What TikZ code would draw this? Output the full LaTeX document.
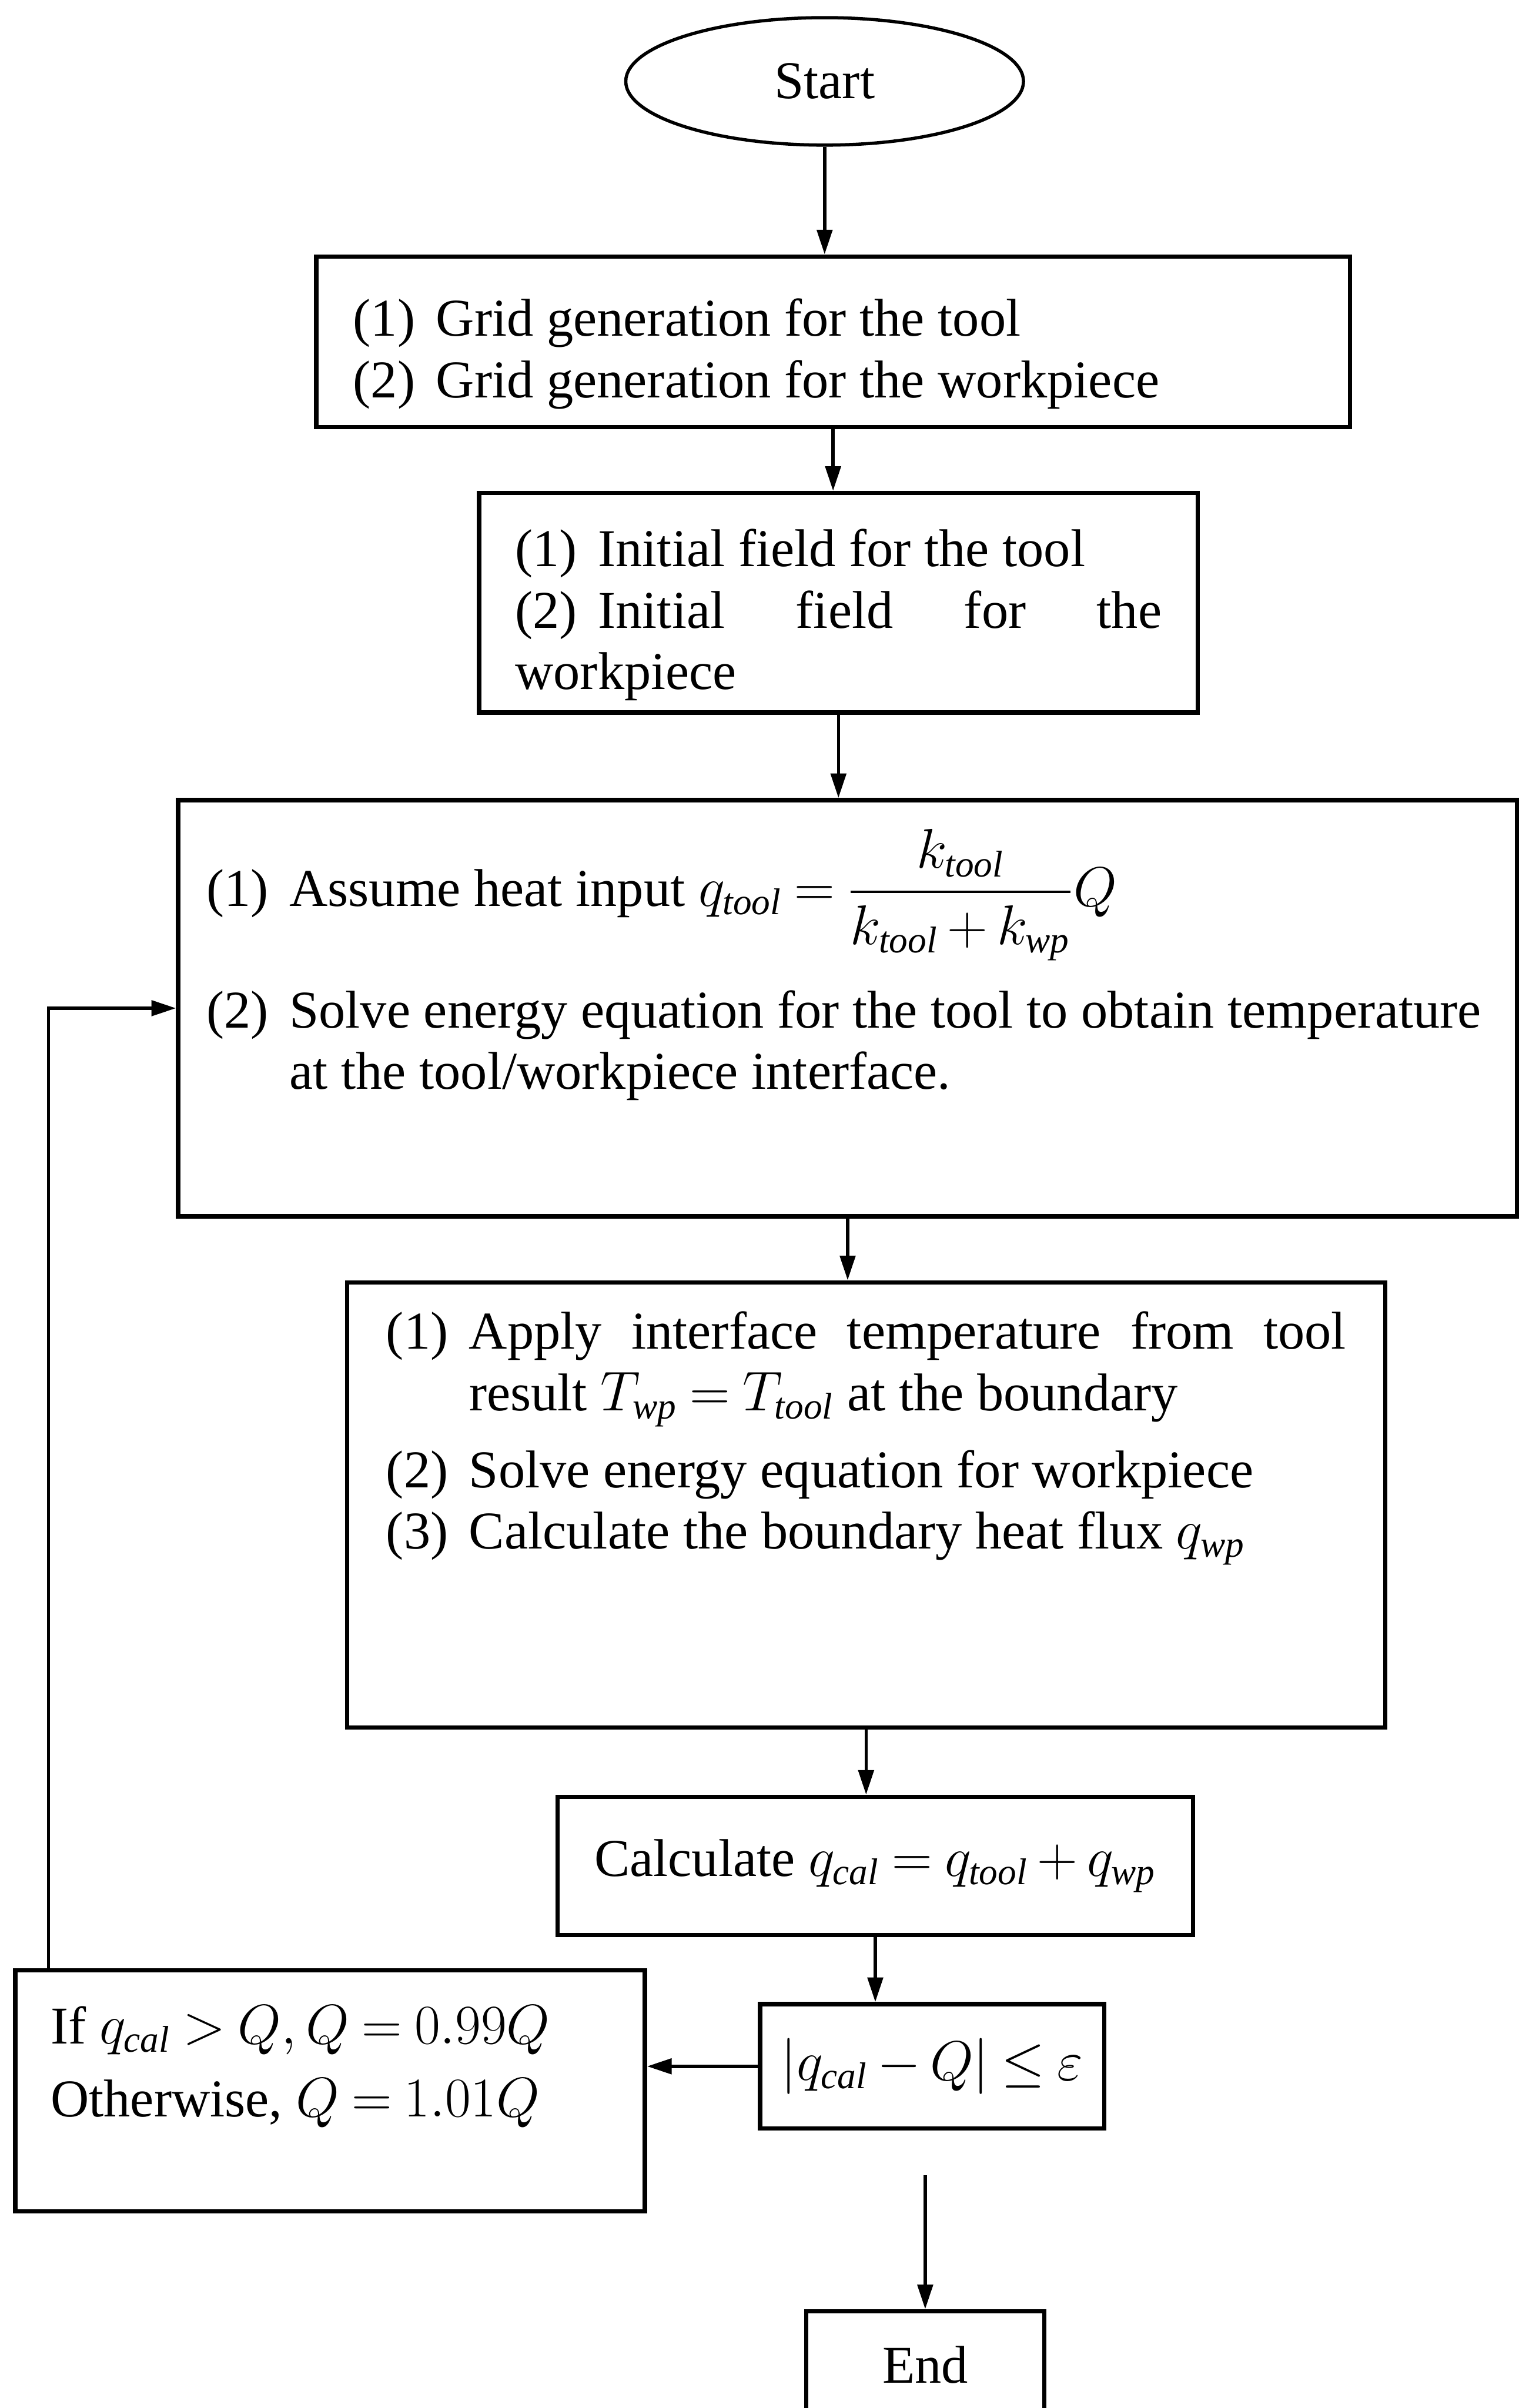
\documentclass[tikz,border=0pt]{standalone}
\usepackage{fontspec}
\setmainfont{Liberation Serif}
\usepackage{amsmath}
\usetikzlibrary{shapes,arrows.meta,positioning,calc,shapes.geometric}

\newlength{\labw}
\setlength{\labw}{1.08cm}
\newcommand{\hitem}[2]{\par\hangindent=\labw\hangafter=1\noindent\makebox[\labw][l]{#1}#2}
\newcommand{\topbox}[3]{\parbox[c][#1][t]{#2}{#3}}
\thickmuskip=4mu plus 2mu
\medmuskip=3mu plus 1mu
\hyphenpenalty=10000

\begin{document}
\begin{tikzpicture}[
    block/.style={rectangle, draw=black, line width=1.6pt, inner sep=0pt, font=\fontsize{19.7}{22.8}\selectfont},
    arrow/.style={-{Triangle[length=3.2mm, width=2mm]}, line width=1.2pt}
]
\useasboundingbox (0,0) rectangle (19.78,-31.36);

\node[block, ellipse, line width=1.2pt, minimum width=5.18cm, minimum height=1.66cm] (start) at (10.74,-1.06) {Start};
\node[block, minimum width=13.46cm, minimum height=2.22cm, text width=12.5cm, align=justify] (grid) at (10.85,-4.45) {
    \hitem{(1)}{Grid generation for the tool}
    \hitem{(2)}{Grid generation for the workpiece}};
\node[block, minimum width=9.36cm, minimum height=2.86cm, text width=8.42cm, align=justify] (init) at (10.92,-7.85) {\tolerance=9999
    \hitem{(1)}{Initial field for the tool}
    \hitem{(2)}{Initial field for the \mbox{workpiece}}};
\node[block, minimum width=17.44cm, minimum height=5.42cm] (tool) at (11.04,-13.13) {\topbox{4.66cm}{16.7cm}{\raggedright
    \hitem{(1)}{Assume heat input $q_{\mathit{tool}}=\dfrac{k_{\mathit{tool}}}{k_{\mathit{tool}}+k_{\mathit{wp}}}Q$}\par\vspace{0.35cm}
    \hitem{(2)}{Solve energy equation for the tool to obtain temperature at the tool/workpiece interface.}}};
\node[block, minimum width=13.52cm, minimum height=5.8cm] (wp) at (11.28,-19.6) {\topbox{5.04cm}{12.5cm}{\tolerance=9999
    \hitem{(1)}{Apply interface temperature from tool \mbox{result} $T_{\mathit{wp}}=T_{\mathit{tool}}$ at the boundary}\par\vspace{0.2cm}
    \hitem{(2)}{Solve energy equation for workpiece}
    \hitem{(3)}{Calculate the boundary heat flux $q_{\mathit{wp}}$}}};
\node[block, minimum width=8.28cm, minimum height=1.8cm] (calc) at (11.4,-24.3) {Calculate $q_{\mathit{cal}}=q_{\mathit{tool}}+q_{\mathit{wp}}$};
\node[block, minimum width=4.48cm, minimum height=1.62cm] (check) at (12.14,-26.91) {$\left|q_{\mathit{cal}}-Q\right|\le\varepsilon$};
\node[block, minimum width=8.2cm, minimum height=3.14cm] (update) at (4.3,-27.23) {\topbox{2.22cm}{7.28cm}{If $q_{\mathit{cal}}>Q, Q=0.99Q$\\[0.15cm] Otherwise, $Q=1.01Q$}};
\node[block, minimum width=3.1cm, minimum height=1.4cm] (finish) at (12.05,-30.8) {End};

\draw[arrow] (start.south) -- (start.south |- grid.north);
\draw[arrow] (grid.south) -- (grid.south |- init.north);
\draw[arrow] (init.south) -- (init.south |- tool.north);
\draw[arrow] (tool.south) -- (tool.south |- wp.north);
\draw[arrow] (wp.south) -- (wp.south |- calc.north);
\draw[arrow] (calc.south) -- (calc.south |- check.north);
\draw[arrow] (check.west) -- (check.west -| update.east);
\draw[arrow] ([xshift=0.46cm]update.north west) |- (tool.west);
\draw[arrow, shorten <=0.58cm] (check.south -| finish.north) -- (finish.north);

\end{tikzpicture}
\end{document}
